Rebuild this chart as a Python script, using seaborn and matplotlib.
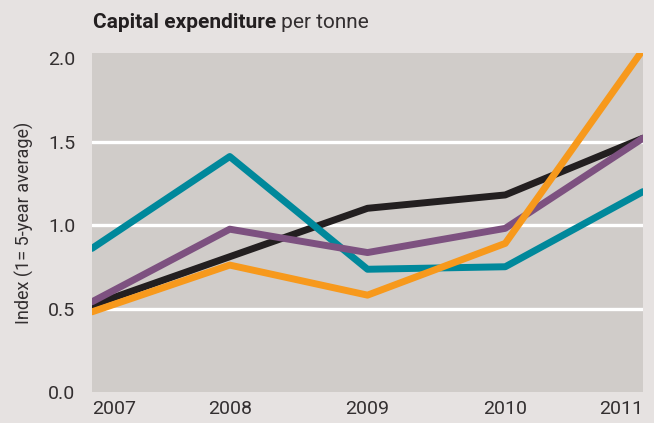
import pandas as pd
import matplotlib.pyplot as plt
import seaborn as sns

# %%
# values (index, 1 = 5-year average)
years = [2007, 2008, 2009, 2010, 2011]
black = [0.52, 0.81, 1.10, 1.18, 1.52]
teal = [0.86, 1.41, 0.735, 0.75, 1.20]
purple = [0.54, 0.975, 0.835, 0.98, 1.52]
orange = [0.48, 0.76, 0.58, 0.89, 2.05]

series = {"black": black, "teal": teal, "purple": purple, "orange": orange}
colors = {"black": "#231f20", "teal": "#00889b", "purple": "#7d5180", "orange": "#f7991c"}

df = pd.concat(
    [pd.DataFrame({"year": years, "index": vals, "series": name}) for name, vals in series.items()],
    ignore_index=True,
)

# %%
sns.set_style("white")
plt.rcParams["font.family"] = ["Roboto", "DejaVu Sans"]
text_col = "#332f30"

fig = plt.figure(figsize=(6.54, 4.23), dpi=100, facecolor="#e6e2e1")
ax = fig.add_axes([92 / 654, 31 / 423, 551 / 654, 339 / 423])
ax.set_facecolor("#d0ccc9")

for y in [0.5, 1.0, 1.5]:
    ax.axhline(y, color="white", linewidth=2.4, zorder=1)

sns.lineplot(data=df, x="year", y="index", hue="series", palette=colors,
             linewidth=5, sort=False, legend=False, ax=ax, zorder=3)

ax.set_xlim(2007, 2011)
ax.set_ylim(0, 2.03)
ax.set_yticks([0, 0.5, 1.0, 1.5, 2.0])
ax.set_yticklabels(["0.0", "0.5", "1.0", "1.5", "2.0"])
ax.set_xticks(years)
ax.set_xticklabels([str(y) for y in years])
for i, lab in enumerate(ax.get_xticklabels()):
    if i == 0:
        lab.set_ha("left")
    elif i == len(years) - 1:
        lab.set_ha("right")
ax.tick_params(axis="both", length=0, labelsize=14, colors=text_col)
ax.tick_params(axis="y", pad=12)
ax.tick_params(axis="x", pad=6)
for s in ax.spines.values():
    s.set_visible(False)

ax.set_xlabel("")
ax.set_ylabel("Index (1= 5-year average)", fontsize=13, color=text_col, labelpad=10)

ty = 1 - 22 / 423
t1 = fig.text(93 / 654, ty, "Capital expenditure", fontsize=15, fontweight="bold",
              color="#231f20", va="center", ha="left")
fig.canvas.draw()
bb = t1.get_window_extent().transformed(fig.transFigure.inverted())
fig.text(bb.x1, ty, " per tonne", fontsize=15, color=text_col, va="center", ha="left")

plt.savefig("out.png", dpi=100, facecolor=fig.get_facecolor())
